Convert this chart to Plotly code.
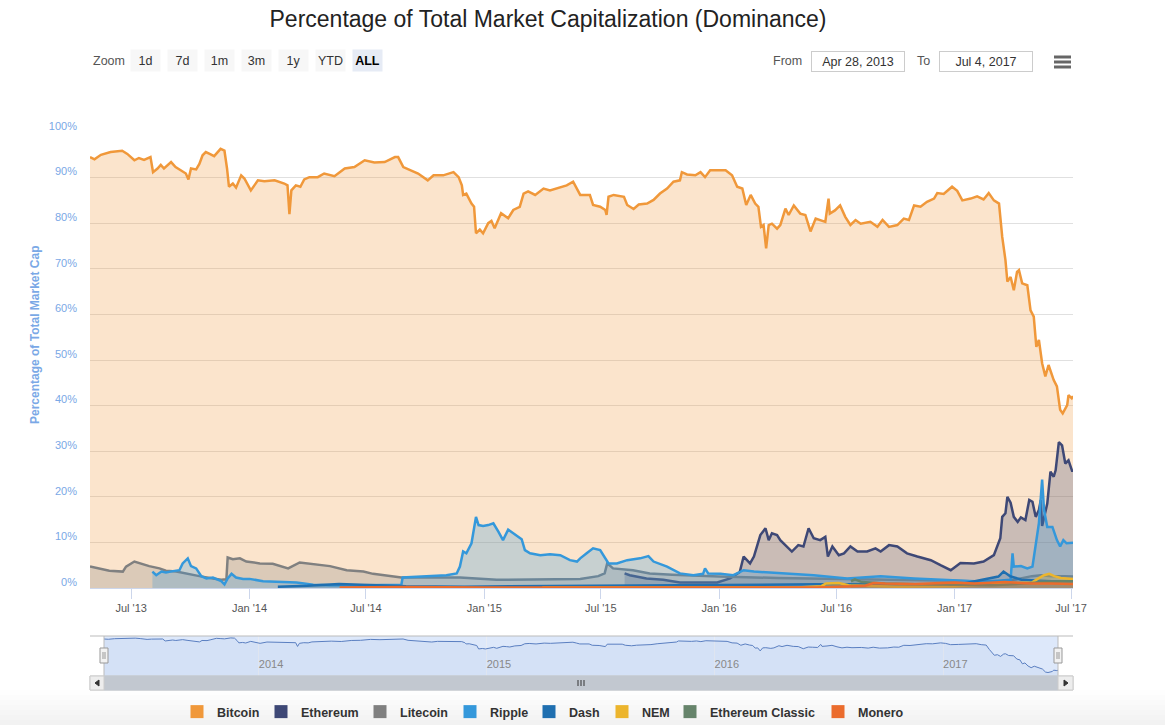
import plotly.graph_objects as go

W, H = 1165, 725

# ---------------- data ----------------
btc_dates = ["2013-04-28","2013-05-05","2013-05-15","2013-05-30","2013-06-17","2013-06-25","2013-07-06","2013-07-13",
 "2013-07-21","2013-07-31","2013-08-04","2013-08-11","2013-08-16","2013-08-21","2013-09-01","2013-09-08","2013-09-16",
 "2013-09-24","2013-09-28","2013-10-02","2013-10-10","2013-10-15","2013-10-20","2013-10-25","2013-10-31","2013-11-07",
 "2013-11-17","2013-11-23","2013-11-27","2013-11-30","2013-12-06","2013-12-11","2013-12-19","2013-12-24","2014-01-03",
 "2014-01-14","2014-01-24","2014-02-09","2014-02-24","2014-03-01","2014-03-04","2014-03-07","2014-03-14","2014-03-21",
 "2014-03-27","2014-04-04","2014-04-17","2014-04-27","2014-05-13","2014-05-29","2014-06-13","2014-06-29","2014-07-14",
 "2014-07-30","2014-08-15","2014-08-20","2014-08-28","2014-09-10","2014-09-20","2014-10-05","2014-10-14","2014-10-29",
 "2014-11-14","2014-11-22","2014-11-27","2014-11-29","2014-12-04","2014-12-12","2014-12-16","2014-12-19","2014-12-25",
 "2014-12-30","2015-01-07","2015-01-12","2015-01-17","2015-01-27","2015-02-02","2015-02-07","2015-02-15","2015-02-25",
 "2015-03-03","2015-03-10","2015-03-21","2015-04-03","2015-04-13","2015-04-29","2015-05-09","2015-05-19","2015-05-25",
 "2015-05-30","2015-06-14","2015-06-19","2015-06-30","2015-07-08","2015-07-10","2015-07-13","2015-07-21","2015-08-06",
 "2015-08-11","2015-08-21","2015-08-29","2015-09-11","2015-09-21","2015-10-01","2015-10-12","2015-10-22","2015-11-01",
 "2015-11-04","2015-11-12","2015-11-25","2015-12-03","2015-12-10","2015-12-18","2016-01-11","2016-01-21","2016-01-29",
 "2016-02-06","2016-02-12","2016-02-19","2016-02-26","2016-03-02","2016-03-06","2016-03-10","2016-03-14","2016-03-18",
 "2016-03-23","2016-03-31","2016-04-05","2016-04-13","2016-04-18","2016-04-26","2016-05-06","2016-05-14","2016-05-22",
 "2016-05-30","2016-06-06","2016-06-14","2016-06-19","2016-06-21","2016-06-29","2016-07-07","2016-07-15","2016-07-23",
 "2016-07-31","2016-08-08","2016-08-23","2016-09-03","2016-09-11","2016-09-21","2016-10-04","2016-10-14","2016-10-22",
 "2016-10-30","2016-11-09","2016-11-19","2016-11-30","2016-12-05","2016-12-15","2016-12-28","2017-01-05","2017-01-13",
 "2017-01-26","2017-02-05","2017-02-15","2017-02-23","2017-03-03","2017-03-11","2017-03-16","2017-03-21","2017-03-24",
 "2017-03-29","2017-04-03","2017-04-08","2017-04-11","2017-04-16","2017-04-24","2017-04-29","2017-05-04","2017-05-08",
 "2017-05-12","2017-05-17","2017-05-22","2017-05-27","2017-06-04","2017-06-09","2017-06-14","2017-06-18","2017-06-25",
 "2017-06-27","2017-07-02","2017-07-04"]
btc_values = [94.5,94.0,95.0,95.6,95.9,95.2,93.8,94.3,
 93.9,94.5,91.2,92.0,92.8,92.0,93.4,92.3,91.6,
 90.9,89.6,92.0,91.8,93.0,94.9,95.6,95.2,94.7,
 96.3,95.9,92.0,88.0,88.7,87.8,90.5,89.8,87.2,
 89.4,89.2,89.4,88.7,88.3,82.0,87.2,88.3,88.0,
 89.6,90.1,90.1,90.9,90.3,92.0,92.3,93.8,93.3,
 93.4,94.5,94.5,92.3,91.6,90.9,89.4,90.5,90.5,
 91.2,90.1,88.3,86.2,86.5,84.3,83.6,77.8,78.6,
 77.8,80.0,80.5,78.9,82.2,81.7,81.1,82.9,83.6,
 86.5,87.0,86.2,87.6,87.2,87.8,88.3,89.1,87.6,
 86.2,86.2,84.0,83.6,82.9,81.8,85.8,86.2,85.8,
 84.0,83.1,84.1,84.3,85.1,86.5,87.6,89.1,89.4,
 91.2,90.7,90.5,91.2,90.1,91.6,91.6,90.5,88.0,
 87.6,84.0,86.2,84.3,83.6,79.2,79.6,74.5,79.6,
 79.9,78.8,79.6,83.2,81.8,83.9,82.1,81.8,78.2,
 81.0,80.7,80.3,85.4,82.1,82.8,83.9,81.4,79.6,
 80.7,79.9,80.3,79.2,80.7,79.2,79.6,81.0,80.7,
 83.9,83.6,84.7,85.4,86.6,86.4,88.0,87.1,85.0,
 85.4,85.9,85.2,86.6,85.0,84.3,77.0,71.9,67.2,
 68.2,65.3,69.3,69.7,66.8,66.4,60.9,59.5,52.9,
 54.4,49.3,46.4,48.9,45.6,44.2,39.1,38.3,40.1,
 42.3,41.6,42.1]

eth_dates = ["2015-08-07","2015-08-15","2015-09-10","2015-10-06","2015-11-01","2015-11-27","2015-12-29","2016-01-18",
 "2016-02-02","2016-02-08","2016-02-18","2016-02-24","2016-03-05","2016-03-13","2016-03-18","2016-03-23","2016-03-31",
 "2016-04-05","2016-04-15","2016-04-23","2016-05-03","2016-05-11","2016-05-19","2016-05-27","2016-06-06","2016-06-14",
 "2016-06-18","2016-06-25","2016-07-05","2016-07-13","2016-07-23","2016-08-03","2016-08-18","2016-08-31","2016-09-08",
 "2016-09-21","2016-10-04","2016-10-19","2016-11-04","2016-11-25","2016-12-10","2016-12-26","2017-01-10","2017-01-31",
 "2017-02-15","2017-03-03","2017-03-13","2017-03-16","2017-03-21","2017-03-24","2017-03-29","2017-04-03","2017-04-09",
 "2017-04-14","2017-04-21","2017-04-27","2017-05-02","2017-05-07","2017-05-12","2017-05-15","2017-05-17","2017-05-25",
 "2017-05-30","2017-06-04","2017-06-07","2017-06-12","2017-06-17","2017-06-22","2017-06-27","2017-07-03","2017-07-04"]
eth_values = [3.2,2.8,2.1,1.8,1.2,1.2,1.2,2.1,
 3.5,6.9,5.4,6.9,11.6,13.1,10.5,12.0,11.6,
 10.5,9.1,8.0,9.4,9.1,13.1,10.9,10.5,11.2,
 6.9,9.1,7.2,7.6,9.1,8.0,8.0,8.7,8.0,
 9.4,9.1,7.6,6.9,6.1,5.0,3.9,5.5,5.4,
 5.8,7.2,10.9,15.6,16.4,20.0,18.7,15.6,14.5,
 15.5,14.9,19.3,18.9,15.6,17.1,19.3,13.6,18.5,
 25.5,24.4,25.8,32.0,31.3,27.3,28.0,25.5,26.0]

ltc_dates = ["2013-04-28","2013-05-13","2013-05-28","2013-06-18","2013-06-23","2013-07-06","2013-07-17","2013-07-29",
 "2013-08-14","2013-08-24","2013-09-09","2013-09-25","2013-10-15","2013-11-05","2013-11-18","2013-11-26","2013-11-28",
 "2013-12-06","2013-12-17","2013-12-27","2014-01-17","2014-02-06","2014-03-02","2014-03-20","2014-04-10","2014-05-06",
 "2014-06-01","2014-06-27","2014-07-12","2014-08-12","2014-08-25","2014-11-03","2014-11-24","2015-01-20","2015-04-08",
 "2015-05-30","2015-06-27","2015-07-07","2015-07-11","2015-07-20","2015-08-20","2015-09-15","2015-10-20","2015-12-01",
 "2016-01-01","2016-04-01","2016-07-01","2016-10-01","2017-01-01","2017-03-01","2017-03-25","2017-04-10","2017-05-01",
 "2017-05-15","2017-06-01","2017-06-20","2017-07-04"]
ltc_values = [4.7,4.2,3.8,3.6,4.7,5.8,5.3,4.8,
 4.3,3.8,3.6,3.1,2.6,2.1,1.8,1.9,6.7,
 6.3,6.5,5.8,5.4,5.3,4.3,5.6,5.2,4.8,
 3.9,3.6,3.1,2.5,2.3,2.3,2.3,1.8,2.0,
 2.0,2.6,3.2,5.4,4.3,3.9,3.2,2.9,2.6,
 2.5,2.2,2.0,1.8,1.6,1.3,1.6,2.0,2.6,
 2.8,2.6,2.6,2.5]

xrp_dates = ["2013-08-03","2013-08-09","2013-08-17","2013-08-24","2013-09-04","2013-09-14","2013-09-19","2013-09-27",
 "2013-10-02","2013-10-10","2013-10-18","2013-10-26","2013-11-05","2013-11-13","2013-11-18","2013-11-23","2013-11-28",
 "2013-12-04","2013-12-11","2013-12-22","2014-01-01","2014-01-22","2014-02-17","2014-03-15","2014-04-10","2014-05-06",
 "2014-06-27","2014-07-23","2014-08-25","2014-08-27","2014-10-08","2014-11-03","2014-11-19","2014-11-24","2014-11-29",
 "2014-12-04","2014-12-12","2014-12-19","2014-12-23","2014-12-30","2015-01-07","2015-01-15","2015-01-23","2015-01-30",
 "2015-02-07","2015-02-15","2015-02-28","2015-03-05","2015-03-13","2015-03-29","2015-04-13","2015-04-29","2015-05-14",
 "2015-05-25","2015-05-30","2015-06-09","2015-06-19","2015-06-30","2015-07-08","2015-07-13","2015-07-26","2015-08-11",
 "2015-08-31","2015-09-13","2015-09-21","2015-10-12","2015-11-01","2015-11-22","2015-12-07","2015-12-10","2015-12-15",
 "2016-01-03","2016-01-23","2016-02-08","2016-02-24","2016-04-05","2016-05-27","2016-07-18","2016-09-08","2016-10-30",
 "2016-12-21","2017-02-10","2017-03-09","2017-03-29","2017-04-01","2017-04-03","2017-04-14","2017-04-24","2017-05-02",
 "2017-05-07","2017-05-12","2017-05-17","2017-05-20","2017-05-25","2017-06-02","2017-06-09","2017-06-14","2017-06-19",
 "2017-06-24","2017-07-04"]
xrp_values = [3.6,2.8,3.6,3.4,3.7,3.9,5.4,6.5,
 4.8,4.3,2.6,2.1,2.3,1.8,1.5,0.8,2.1,
 3.1,2.3,2.0,2.0,1.5,1.4,1.2,0.7,0.6,
 0.6,0.6,0.7,2.3,2.6,2.8,3.2,4.7,8.0,
 7.6,9.8,15.6,13.8,13.6,13.8,14.2,12.3,10.5,
 12.8,12.0,10.7,8.3,7.6,7.2,7.4,7.2,6.1,
 5.8,6.5,7.6,8.7,8.3,6.5,5.4,5.4,6.1,
 6.5,7.0,5.8,4.7,3.2,2.8,3.1,4.3,3.2,
 3.1,2.8,3.9,3.6,3.2,2.8,2.1,2.6,2.1,
 1.8,1.4,1.6,1.8,7.6,4.7,4.8,4.3,4.7,
 9.1,14.2,23.8,17.1,13.4,13.4,10.5,9.1,10.5,
 9.8,9.9]

dash_dates = ["2014-02-14","2014-04-01","2014-05-20","2014-06-10","2014-07-15","2014-09-01","2014-12-01","2015-03-01",
 "2015-06-01","2015-10-01","2016-01-01","2016-03-01","2016-06-01","2016-09-01","2016-12-01","2017-01-15","2017-02-15",
 "2017-03-10","2017-03-18","2017-03-28","2017-04-15","2017-05-10","2017-06-01","2017-07-04"]
dash_values = [0.3,0.5,0.9,0.8,0.5,0.4,0.3,0.4,
 0.5,0.6,0.7,0.8,0.8,0.8,0.8,1.0,1.8,
 2.5,3.6,2.6,1.8,1.6,1.5,1.5]

nem_dates = ["2015-04-01","2016-01-01","2016-05-01","2016-06-08","2016-06-15","2016-07-05","2016-07-20","2016-10-01",
 "2017-01-01","2017-03-01","2017-04-01","2017-05-01","2017-05-10","2017-05-20","2017-05-28","2017-06-05","2017-06-15",
 "2017-07-04"]
nem_values = [0.1,0.1,0.1,0.4,1.0,1.1,0.6,0.3,
 0.4,0.9,1.0,1.2,2.0,2.8,3.1,2.6,2.2,
 2.0]

etc_dates = ["2016-07-24","2016-07-30","2016-08-10","2016-09-15","2016-11-01","2017-01-01","2017-03-01","2017-04-01",
 "2017-05-10","2017-06-01","2017-06-15","2017-07-04"]
etc_values = [1.5,1.9,1.3,1.0,0.8,0.7,0.6,0.8,
 1.2,1.4,1.5,1.5]

xmr_dates = ["2014-05-21","2014-09-01","2015-01-01","2016-01-01","2016-06-01","2016-08-15","2016-08-28","2016-09-15",
 "2016-11-01","2017-01-01","2017-02-01","2017-03-20","2017-05-01","2017-06-01","2017-07-04"]
xmr_values = [0.1,0.2,0.1,0.1,0.1,0.5,1.1,1.0,
 0.9,1.2,1.0,1.3,1.0,1.0,0.9]

series_names = ["Bitcoin", "Ethereum", "Litecoin", "Ripple", "Dash", "NEM", "Ethereum Classic", "Monero"]
series_colors = ["#f0983a", "#3e4876", "#808080", "#3498db", "#1f6fb0", "#ecb52d", "#66846b", "#eb6c2d"]
series_data = [(btc_dates, btc_values), (eth_dates, eth_values), (ltc_dates, ltc_values), (xrp_dates, xrp_values),
               (dash_dates, dash_values), (nem_dates, nem_values), (etc_dates, etc_values), (xmr_dates, xmr_values)]

y_ticks = [0, 10, 20, 30, 40, 50, 60, 70, 80, 90, 100]
y_tick_labels = [f"{v}%" for v in y_ticks]
zoom_buttons = ["1d", "7d", "1m", "3m", "1y", "YTD", "ALL"]
date_from, date_to = "Apr 28, 2013", "Jul 4, 2017"
x_start, x_end = "2013-04-28", "2017-07-04"

FONT = "Liberation Sans, Arial, Helvetica, sans-serif"
LABEL_BLUE = "#7aa8e6"


def fx(x):
    return x / W


def fy(y):
    return 1 - y / H


def rgba(hexc, a):
    h = hexc.lstrip("#")
    r, g, b = int(h[0:2], 16), int(h[2:4], 16), int(h[4:6], 16)
    return f"rgba({r},{g},{b},{a})"


fig = go.Figure()

# main area series
for name, color, (d, v) in zip(series_names, series_colors, series_data):
    fig.add_trace(go.Scatter(
        x=d, y=v, mode="lines", name=name, legendgroup=name, showlegend=False,
        line=dict(color=color, width=2.5), fill="tozeroy", fillcolor=rgba(color, 0.26),
        xaxis="x", yaxis="y", hovertemplate="%{x|%b %d, %Y}<br>" + name + ": %{y:.1f}%<extra></extra>"))

# navigator series (Bitcoin)
fig.add_trace(go.Scatter(
    x=btc_dates, y=btc_values, mode="lines", showlegend=False, hoverinfo="skip",
    line=dict(color="#5a7fc1", width=1), fill="tozeroy", fillcolor="rgba(51,92,173,0.05)",
    xaxis="x2", yaxis="y2"))

# legend entries (square symbols), one legend each for exact placement
legend_symbol_centers = [197, 281, 380, 470, 549, 622, 690, 838]
layout_legends = {}
for i, (name, color) in enumerate(zip(series_names, series_colors)):
    key = "legend" if i == 0 else f"legend{i + 1}"
    fig.add_trace(go.Scatter(
        x=[None], y=[None], mode="markers", name=name, legendgroup=name, showlegend=True,
        marker=dict(symbol="square", size=13, color=color), legend=key, xaxis="x", yaxis="y"))
    layout_legends[key] = dict(
        x=fx(legend_symbol_centers[i] - 20), xanchor="left", y=fy(712), yanchor="middle",
        orientation="h", bgcolor="rgba(0,0,0,0)", borderwidth=0,
        font=dict(family=FONT, size=12.5, color="#333333", weight="bold"), itemclick="toggle")

shapes = []
# bottom page shading
band_cols = ["#fefefe", "#fcfcfc", "#fafafa", "#f8f8f8", "#f6f6f6", "#f4f4f4", "#f2f2f2"]
for i, c in enumerate(band_cols):
    shapes.append(dict(type="rect", xref="paper", yref="paper", x0=0, x1=1,
                       y0=fy(690 + 5 * (i + 1)), y1=fy(690 + 5 * i), fillcolor=c, line=dict(width=0), layer="below"))
# navigator mask
shapes.append(dict(type="rect", xref="paper", yref="paper", x0=fx(104), x1=fx(1058), y0=fy(676), y1=fy(636),
                   fillcolor="rgba(120,165,235,0.25)", line=dict(width=0), layer="below"))
# navigator outline
shapes.append(dict(type="line", xref="paper", yref="paper", x0=fx(90), x1=fx(1073), y0=fy(636), y1=fy(636),
                   line=dict(color="#bbbbbb", width=1)))
for xx in (104, 1058):
    shapes.append(dict(type="line", xref="paper", yref="paper", x0=fx(xx), x1=fx(xx), y0=fy(676), y1=fy(636),
                       line=dict(color="#bbbbbb", width=1)))
# scrollbar track / bar / buttons
shapes.append(dict(type="rect", xref="paper", yref="paper", x0=fx(90), x1=fx(1073), y0=fy(690), y1=fy(676),
                   fillcolor="#f2f2f2", line=dict(color="#cccccc", width=1)))
shapes.append(dict(type="rect", xref="paper", yref="paper", x0=fx(104), x1=fx(1058), y0=fy(690), y1=fy(676),
                   fillcolor="#c2c8d0", line=dict(color="#c2c8d0", width=1)))
for x0, x1 in ((90, 104), (1058, 1073)):
    shapes.append(dict(type="rect", xref="paper", yref="paper", x0=fx(x0), x1=fx(x1), y0=fy(690), y1=fy(676),
                       fillcolor="#ededed", line=dict(color="#cccccc", width=1)))
shapes.append(dict(type="path", xref="paper", yref="paper",
                   path=f"M{fx(99)},{fy(680)} L{fx(95)},{fy(683)} L{fx(99)},{fy(686)} Z",
                   fillcolor="#333333", line=dict(color="#333333", width=1)))
shapes.append(dict(type="path", xref="paper", yref="paper",
                   path=f"M{fx(1064)},{fy(680)} L{fx(1068)},{fy(683)} L{fx(1064)},{fy(686)} Z",
                   fillcolor="#333333", line=dict(color="#333333", width=1)))
for xx in (578, 581, 584):
    shapes.append(dict(type="line", xref="paper", yref="paper", x0=fx(xx), x1=fx(xx), y0=fy(686), y1=fy(680),
                       line=dict(color="#333333", width=1)))
# navigator handles
for cx in (104, 1058):
    shapes.append(dict(type="rect", xref="paper", yref="paper", x0=fx(cx - 4), x1=fx(cx + 4), y0=fy(663), y1=fy(648),
                       fillcolor="#f2f2f2", line=dict(color="#999999", width=1)))
    for dx in (-1, 1):
        shapes.append(dict(type="line", xref="paper", yref="paper", x0=fx(cx + dx), x1=fx(cx + dx),
                           y0=fy(659), y1=fy(652), line=dict(color="#999999", width=1)))
# menu icon
for yy in (57, 62, 67):
    shapes.append(dict(type="line", xref="paper", yref="paper", x0=fx(1054), x1=fx(1071), y0=fy(yy), y1=fy(yy),
                       line=dict(color="#666666", width=3)))

annotations = []
annotations.append(dict(text="Zoom", x=fx(91), y=fy(61), xref="paper", yref="paper", xanchor="left",
                        yanchor="middle", showarrow=False, font=dict(family=FONT, size=12.5, color="#555555")))
btn_centers = [145, 182, 219, 256, 293, 330, 367]
for lab, cx in zip(zoom_buttons, btn_centers):
    active = lab == "ALL"
    annotations.append(dict(
        text=f"<b>{lab}</b>" if active else lab, x=fx(cx), y=fy(61), xref="paper", yref="paper",
        xanchor="center", yanchor="middle", showarrow=False, width=29, height=21, borderpad=0,
        bgcolor="#e6ebf5" if active else "#f7f7f7",
        font=dict(family=FONT, size=12.5, color="#000000" if active else "#333333")))
annotations.append(dict(text="From", x=fx(804), y=fy(61), xref="paper", yref="paper", xanchor="right",
                        yanchor="middle", showarrow=False, font=dict(family=FONT, size=12.5, color="#555555")))
annotations.append(dict(text="To", x=fx(932), y=fy(61), xref="paper", yref="paper", xanchor="right",
                        yanchor="middle", showarrow=False, font=dict(family=FONT, size=12.5, color="#555555")))
for txt, cx in ((date_from, 858), (date_to, 986)):
    annotations.append(dict(text=txt, x=fx(cx), y=fy(61.5), xref="paper", yref="paper", xanchor="center",
                            yanchor="middle", showarrow=False, width=92, height=19, borderpad=0,
                            bordercolor="#cccccc", borderwidth=1, bgcolor="#ffffff",
                            font=dict(family=FONT, size=12.5, color="#333333")))
annotations.append(dict(text="<b>Percentage of Total Market Cap</b>", x=fx(35), y=fy(335), xref="paper",
                        yref="paper", xanchor="center", yanchor="middle", textangle=-90, showarrow=False,
                        font=dict(family=FONT, size=12, color=LABEL_BLUE)))

fig.update_layout(
    width=W, height=H, margin=dict(l=0, r=0, t=0, b=0, autoexpand=False),
    paper_bgcolor="#ffffff", plot_bgcolor="rgba(0,0,0,0)",
    font=dict(family=FONT, size=11, color="#555555"),
    title=dict(text="Percentage of Total Market Capitalization (Dominance)", x=fx(548), xanchor="center",
               y=fy(19), yanchor="middle", automargin=False,
               font=dict(family=FONT, size=23, color="#222222")),
    xaxis=dict(domain=[fx(90), fx(1073)], anchor="y", type="date", range=[x_start, x_end], automargin=False,
               showgrid=False, zeroline=False, showline=True, linecolor="#ccd6eb", linewidth=1,
               ticks="outside", ticklen=10, tickcolor="#ccd6eb", tickwidth=1,
               dtick="M6", tick0="2013-07-01", tickformat="%b '%y",
               tickfont=dict(family=FONT, size=11, color="#555555")),
    yaxis=dict(domain=[fy(588), fy(132)], anchor="x", range=[0, 100], tickmode="array", automargin=False,
               tickvals=y_ticks, ticktext=y_tick_labels,
               showgrid=True, gridcolor="#e0e0e0", gridwidth=1, zeroline=False, showline=False,
               ticks="", ticklabelstandoff=12, ticklabelshift=-6,
               tickfont=dict(family=FONT, size=11, color=LABEL_BLUE)),
    xaxis2=dict(domain=[fx(104), fx(1058)], anchor="y2", type="date", range=[x_start, x_end], automargin=False,
                showgrid=True, gridcolor="#e8ecf4", gridwidth=1, zeroline=False, showline=False, ticks="",
                dtick="M12", tick0="2014-01-01", tickformat="%Y", ticklabelposition="inside right",
                tickfont=dict(family=FONT, size=11, color="#888888"), fixedrange=True),
    yaxis2=dict(domain=[fy(676), fy(636)], anchor="x2", range=[32.5, 99.5], showgrid=False, automargin=False,
                zeroline=False, showticklabels=False, ticks="", fixedrange=True),
    shapes=shapes, annotations=annotations, hovermode="closest",
    **layout_legends,
)

fig.write_html("out.html", config={"displayModeBar": False},
               post_script="document.body.style.margin='0px';document.body.style.overflow='hidden';")
